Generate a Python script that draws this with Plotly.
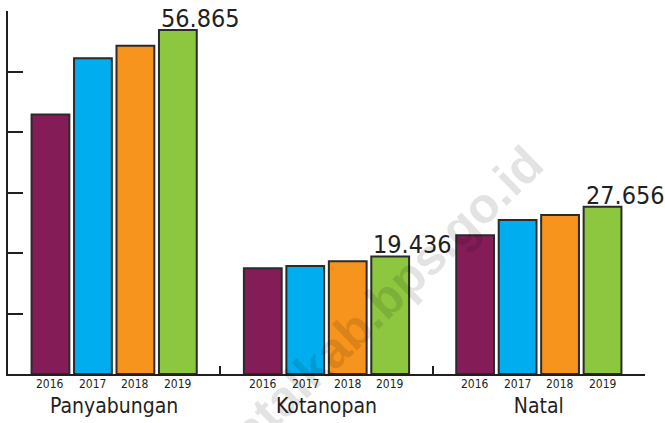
import plotly.graph_objects as go

districts = ["Panyabungan", "Kotanopan", "Natal"]
years = ["2016", "2017", "2018", "2019"]
v2016 = [42900, 17470, 22930]
v2017 = [52200, 17850, 25460]
v2018 = [54270, 18630, 26280]
v2019 = [56865, 19436, 27656]
series = [v2016, v2017, v2018, v2019]
colors = ["#841C58", "#00AEEF", "#F7941D", "#8DC63F"]
y_ticks = [0, 10000, 20000, 30000, 40000, 50000, 60000]
watermark = "mandailingnatalkab.bps.go.id"

FONT = "DejaVu Sans Condensed, Roboto, sans-serif"
INK = "#231f20"
BARGAP = 0.2
GROUPGAP = 0.11

fig = go.Figure()
for yr, vals, col in zip(years, series, colors):
    fig.add_trace(go.Bar(
        name=yr, x=districts, y=vals,
        marker=dict(color=col, line=dict(color="#2b2b2b", width=2)),
        showlegend=False, hoverinfo="x+y+name",
    ))

n = len(years)
slot = (1 - BARGAP) / n
annotations = []
for i, d in enumerate(districts):
    for j, yr in enumerate(years):
        off = -(1 - BARGAP) / 2 + (j + 0.5) * slot
        annotations.append(dict(
            x=i + off, y=0, xref="x", yref="y", text=yr, showarrow=False,
            yanchor="top", yshift=-1,
            font=dict(family=FONT, size=12, color=INK),
        ))
    # value label on the last year's bar
    off_last = -(1 - BARGAP) / 2 + (n - 0.5) * slot
    left = off_last - slot * (1 - GROUPGAP) / 2
    label = f"{v2019[i]:,}".replace(",", ".")
    annotations.append(dict(
        x=i + left, y=v2019[i], xref="x", yref="y", text=label, showarrow=False,
        xanchor="left", yanchor="bottom", yshift=-5,
        font=dict(family=FONT, size=25, color=INK),
    ))

annotations.append(dict(
    x=0.862, y=0.667, xref="paper", yref="paper", text="<b>" + watermark + "</b>",
    showarrow=False, textangle=-44, xanchor="right", yanchor="top",
    font=dict(family="Liberation Sans, Arial, sans-serif", size=50, color="rgba(0,0,0,0.11)"),
))

fig.update_layout(
    width=665, height=423,
    margin=dict(l=8, r=20, t=11, b=49),
    paper_bgcolor="white", plot_bgcolor="white",
    barmode="group", bargap=BARGAP, bargroupgap=GROUPGAP,
    annotations=annotations,
    xaxis=dict(
        type="category", range=[-0.5, len(districts) - 0.5],
        showline=True, linecolor=INK, linewidth=2,
        ticks="inside", tickson="boundaries", ticklen=8, tickwidth=2, tickcolor=INK,
        tickfont=dict(family=FONT, size=21, color=INK),
        ticklabelstandoff=12, showgrid=False, zeroline=False, automargin=False,
    ),
    yaxis=dict(
        range=[0, 60000], tickvals=y_ticks, showticklabels=False,
        showline=True, linecolor=INK, linewidth=2,
        ticks="inside", ticklen=15, tickwidth=2, tickcolor=INK,
        showgrid=False, zeroline=False, automargin=False,
    ),
)

fig.write_html("out.html", config={"displayModeBar": False},
               post_script="document.body.style.margin='0px';")
